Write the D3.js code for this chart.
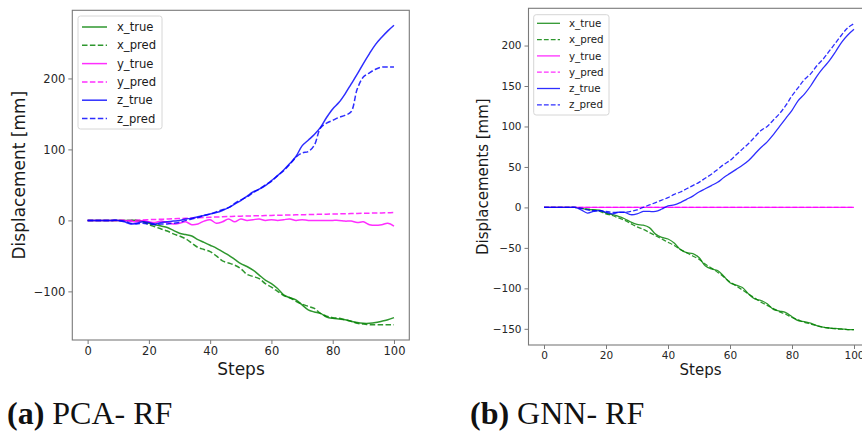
<!DOCTYPE html>
<html><head><meta charset="utf-8">
<script src="https://cdn.jsdelivr.net/npm/d3@7/dist/d3.min.js"></script>
<style>html,body{margin:0;padding:0;background:#fff}svg{display:block}</style>
</head><body><svg id="chart" width="862" height="435"></svg>
<script>
// ---------- data ----------
const steps = [0,2,4,6,8,10,12,14,16,18,20,22,24,26,28,30,32,34,36,38,40,42,44,46,48,50,52,54,56,58,60,62,64,66,68,70,72,74,76,78,80,82,84,86,88,90,92,94,96,98,100];
const seriesNames = ["x_true","x_pred","y_true","y_pred","z_true","z_pred"];

// (a) PCA- RF
const pcaXTrue = [0,0,0,0,0,0,0,0,0,-1,-4,-6,-8,-10,-14,-18,-20,-22,-27,-31,-35,-39,-44,-49,-55,-61,-65,-70,-77,-84,-89,-96,-105,-109,-112,-119,-126,-129,-131,-136,-138,-139,-140,-142,-144,-145,-145,-144,-142,-140,-137];
const pcaXPred = [0,0,0,0,0,0,0,0,0,-2,-6,-9,-12,-15,-19,-22,-26,-32,-38,-41,-44,-50,-57,-60,-63,-68,-76,-79,-82,-89,-94,-100,-106,-109,-114,-118,-121,-124,-131,-135,-137,-138,-140,-142,-145,-146,-147,-147,-147,-147,-147];
const pcaYTrue = [0,0,0,0,0,0,0,-1,-2,0,-2,-3,-1,-3,-5,-4,-2,-6,-5,-1,1,-4,-2,2,-2,2,0,1,2,0,1,0,1,2,0,1,0,0,0,0,0,0,-1,-1,-3,-2,-6,-7,-6,-4,-8];
const pcaYPred = [0,0,0,0,0,0,0,0,0.3,0.6,1,1.3,1.6,2,2.3,2.6,3,3.3,3.7,4.1,4.5,4.8,5.1,5.4,5.7,6,6.2,6.4,6.6,6.8,7,7.2,7.4,7.6,7.8,8,8.2,8.4,8.6,8.8,9,9.2,9.4,9.6,9.8,10,10.2,10.4,10.6,10.8,11];
const pcaZTrue = [0,0,0,0,0,0,-2,-5,-4,-2,-3,-5,-3,-2,-1,0,2,3,5,7,9,11,14,18,23,28,34,40,44,49,56,63,71,80,90,105,113,121,131,145,157,166,178,192,206,221,235,248,258,267,275];
const pcaZPred = [0,0,0,0,0,0,-1,-4,-5,-4,-5,-6,-5,-5,-4,-3,0,2,4,7,9,12,15,18,24,29,33,39,44,50,55,63,70,79,89,95,97,106,130,137,141,145,148,153,185,202,208,213,216,216,216];

// (b) GNN- RF
const gnnXTrue = [0,0,0,0,0,0,-1,-2.5,-3,-3.5,-7,-9,-11,-14,-18,-21,-22,-25,-33,-37,-39,-44,-52,-56,-57,-62,-72,-76,-78,-85,-93,-96,-99,-107,-113,-115,-119,-126,-128,-130,-135,-140,-141,-143,-146,-148,-149,-149.5,-150,-151,-151];
const gnnXPred = [0,0,0,0,0,0,-1,-2,-3,-5,-8,-10,-13,-16,-20,-24,-27,-31,-35,-39,-43,-47,-52,-56,-60,-64,-70,-75,-80,-86,-92,-97,-102,-107,-112,-117,-121,-125,-129,-132,-136,-139,-142,-144,-146,-148,-149,-150,-150.5,-151,-151];
const gnnYTrue = [0,0,0,0,0,0,0,0,0,0,0,0,0,0,0,0,0,0,0,0,0,0,0,0,0,0,0,0,0,0,0,0,0,0,0,0,0,0,0,0,0,0,0,0,0,0,0,0,0,0,0];
const gnnYPred = [0,0,0,0,0,0,0,0,0,0,0,0,0,0,0,0,0,0,0,0,0,0,0,0,0,0,0,0,0,0,0,0,0,0,0,0,0,0,0,0,0,0,0,0,0,0,0,0,0,0,0];
const gnnZTrue = [0,0,0,0,0,0,-3,-7,-5,-4,-6,-8,-6,-6,-9,-8,-5,-5,-5,-2,2,3,6,10,14,19,23,27,31,37,42,47,52,58,66,74,81,90,100,110,120,132,140,150,162,172,181,192,204,213,220];
const gnnZPred = [0,0,0,0,0,0,-1,-3,-4,-4,-5,-6,-6,-6,-5,-3,0,3,6,9,12,16,19,23,27,31,36,41,47,53,58,65,72,79,87,95,100,108,116,126,138,148,158,165,175,183,193,203,213,222,227];

// ticks and labels
const xTicks = [0,20,40,60,80,100];
const pcaYTicks = [-100,0,100,200];
const gnnYTicks = [-150,-100,-50,0,50,100,150,200];
const pcaYLabel = "Displacement [mm]";
const gnnYLabel = "Displacements [mm]";
const xLabel = "Steps";

// ---------- drawing ----------
const svg = d3.select("#chart");
const colors = {x:"#008000", y:"#ff00ff", z:"#0000ff"};
const styleOf = [
  {c:colors.x, dash:false},{c:colors.x, dash:true},
  {c:colors.y, dash:false},{c:colors.y, dash:true},
  {c:colors.z, dash:false},{c:colors.z, dash:true}
];

function panel(opt){
  const g = svg.append("g");
  const x = d3.scaleLinear().domain([-5,105]).range([opt.x0, opt.x1]);
  const y = d3.scaleLinear().domain(opt.yDomain).range([opt.y1, opt.y0]);
  const clipId = "clip"+opt.id;
  svg.append("clipPath").attr("id", clipId).append("rect")
    .attr("x", opt.x0).attr("y", opt.y0).attr("width", opt.x1-opt.x0).attr("height", opt.y1-opt.y0);

  const line = d3.line().x((d,i)=>x(steps[i])).y(d=>y(d)).curve(d3.curveCatmullRom.alpha(0.5));
  const lg = g.append("g").attr("clip-path", `url(#${clipId})`);
  opt.series.forEach((s,i)=>{
    lg.append("path").attr("d", line(s))
      .attr("fill","none").attr("stroke", styleOf[i].c).attr("stroke-opacity",0.82)
      .attr("stroke-width", opt.lw)
      .attr("stroke-dasharray", styleOf[i].dash ? opt.dash : null);
  });

  // frame
  g.append("rect").attr("x",opt.x0).attr("y",opt.y0).attr("width",opt.x1-opt.x0).attr("height",opt.y1-opt.y0)
    .attr("fill","none").attr("stroke","#7a7a7a").attr("stroke-width",1.1);

  const xa = g.append("g").attr("transform",`translate(0,${opt.y1})`)
    .call(d3.axisBottom(x).tickValues(xTicks).tickSize(4).tickPadding(3).tickSizeOuter(0));
  const ya = g.append("g").attr("transform",`translate(${opt.x0},0)`)
    .call(d3.axisLeft(y).tickValues(opt.yTicks).tickSize(4).tickPadding(3).tickSizeOuter(0));
  [xa,ya].forEach(a=>{
    a.select(".domain").remove();
    a.selectAll(".tick line").attr("stroke","#7a7a7a");
    a.selectAll(".tick text").attr("fill","#262626").attr("font-family","DejaVu Sans").attr("font-size",opt.tickFs);
  });

  g.append("text").attr("x",(opt.x0+Math.min(opt.x1,862+ (opt.x1-862)))/2).attr("y",opt.xlY)
    .attr("x", opt.xlX).attr("text-anchor","middle").attr("font-family","DejaVu Sans")
    .attr("font-size",opt.labFs).attr("fill","#1a1a1a").text(xLabel);
  g.append("text").attr("transform",`translate(${opt.ylX},${(opt.y0+opt.y1)/2}) rotate(-90)`)
    .attr("text-anchor","middle").attr("font-family","DejaVu Sans")
    .attr("font-size",opt.labFs).attr("fill","#1a1a1a").text(opt.yLabel);

  // legend
  const L = opt.legend;
  g.append("rect").attr("x",L.x).attr("y",L.y).attr("width",L.w).attr("height",L.h).attr("rx",2.5)
    .attr("fill","#fff").attr("fill-opacity",0.85).attr("stroke","#d6d6d6").attr("stroke-width",1);
  seriesNames.forEach((n,i)=>{
    const yy = L.y + L.first + i*L.dy;
    g.append("line").attr("x1",L.lx0).attr("x2",L.lx1).attr("y1",yy).attr("y2",yy)
      .attr("stroke",styleOf[i].c).attr("stroke-opacity",0.82).attr("stroke-width",opt.lw)
      .attr("stroke-dasharray", styleOf[i].dash ? opt.dash : null);
    g.append("text").attr("x",L.tx).attr("y",yy).attr("dy","0.35em")
      .attr("font-family","DejaVu Sans").attr("font-size",L.fs).attr("fill","#1a1a1a").text(n);
  });
}

panel({id:"a", x0:72.3, x1:409.3, y0:10.3, y1:340, yDomain:[-168.5,296], yTicks:pcaYTicks,
  series:[pcaXTrue,pcaXPred,pcaYTrue,pcaYPred,pcaZTrue,pcaZPred], lw:1.5, dash:"5.5,2.4",
  tickFs:"11.5px", labFs:"17px", xlX:241, xlY:375, ylX:25, yLabel:pcaYLabel,
  legend:{x:78,y:16,w:84,h:113,first:11,dy:18.3,lx0:82,lx1:107,tx:117,fs:"11.6px"}});

panel({id:"b", x0:528.5, x1:869.5, y0:8.3, y1:345, yDomain:[-170,246], yTicks:gnnYTicks,
  series:[gnnXTrue,gnnXPred,gnnYTrue,gnnYPred,gnnZTrue,gnnZPred], lw:1.3, dash:"4.8,2.1",
  tickFs:"10.5px", labFs:"15px", xlX:700.5, xlY:375, ylX:487.5, yLabel:gnnYLabel,
  legend:{x:533.7,y:14.7,w:75.3,h:100.3,first:8.6,dy:16.3,lx0:537,lx1:560,tx:569,fs:"10.3px"}});

// captions
function caption(x, tag, label){
  const t = svg.append("text").attr("x",x).attr("y",424).attr("font-family","Liberation Serif").attr("font-size","32px").attr("fill","#111");
  t.append("tspan").attr("font-weight","bold").text(tag);
  t.append("tspan").text(" " + label);
}
caption(7, "(a)", "PCA- RF");
caption(470, "(b)", "GNN- RF");
</script></body></html>
